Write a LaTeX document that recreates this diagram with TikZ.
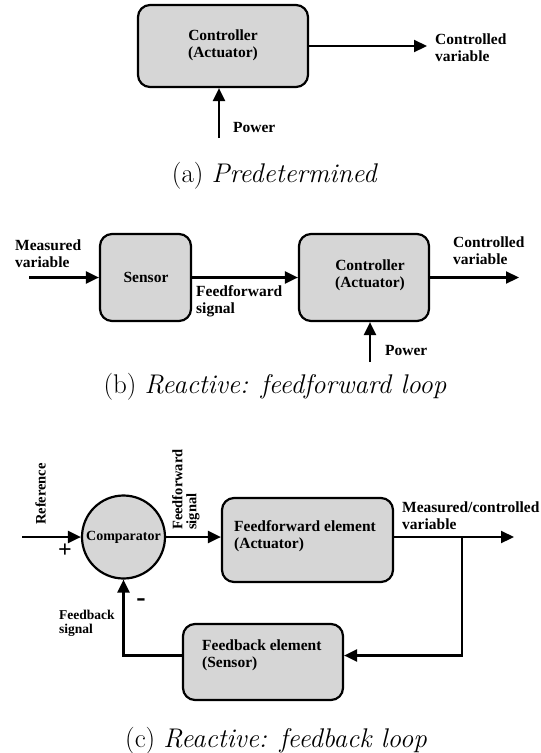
\documentclass[tikz,border=0pt]{standalone}
\usepackage{fontspec}
\newfontfamily\tms{Liberation Serif}
\usetikzlibrary{arrows.meta}
\definecolor{boxgray}{RGB}{214,214,214}
\tikzset{
  blk/.style={draw, line width=2.2pt, fill=boxgray, rounded corners=12pt, inner sep=0pt},
  cmp/.style={draw, line width=2.2pt, fill=boxgray, circle, inner sep=0pt},
  lbl/.style={inner sep=0pt, align=left, font=\tms\bfseries\fontsize{15.5}{17}\selectfont},
  ctr/.style={inner sep=0pt, align=center, font=\tms\bfseries\fontsize{15.5}{17}\selectfont},
  slbl/.style={inner sep=0pt, align=left, font=\tms\bfseries\fontsize{13.5}{14}\selectfont},
  captxt/.style={inner sep=0pt, font=\fontsize{27}{30}\selectfont},
  arr/.style={line width=2.2pt, -{Triangle[length=13pt,width=12pt]}}
}
\begin{document}
\begin{tikzpicture}[x=1pt,y=-1pt]
\useasboundingbox (0,0) rectangle (541,753);
% ---------- (a)
\node[blk, minimum width=170, minimum height=82] (ca) at (223,46) {};
\node[ctr] (cat) at (223,45) {Controller\\(Actuator)};
\coordinate (caout) at (427,46);
\draw[arr] (ca.east) -- (caout);
\node[lbl, anchor=west] (cva) at (435,48) {Controlled\\variable};
\coordinate (pa) at (219,138);
\draw[arr] (pa) -- (pa |- ca.south);
\node[lbl, anchor=west] (pwa) at (233,127) {Power};
\node[captxt] (capa) at (275,176) {(a) \textit{Predetermined}};
% ---------- (b)
\node[blk, minimum width=91, minimum height=87] (sen) at (145.5,277.5) {};
\node[ctr] (sent) at (146,277) {Sensor};
\node[blk, minimum width=130, minimum height=87] (cb) at (364,277.5) {};
\node[ctr] (cbt) at (370,275) {Controller\\(Actuator)};
\coordinate (mvin) at (29,277.5);
\draw[arr] (mvin) -- (sen.west);
\node[lbl, anchor=west] (mvl) at (15,254) {Measured\\variable};
\draw[arr] (sen.east) -- (cb.west);
\node[lbl, anchor=west] (ffl) at (196,301) {Feedforward\\signal};
\coordinate (cbout) at (519,277.5);
\draw[arr] (cb.east) -- (cbout);
\node[lbl, anchor=west] (cvb) at (453,251) {Controlled\\variable};
\coordinate (pb) at (370,362);
\draw[arr] (pb) -- (pb |- cb.south);
\node[lbl, anchor=west] (pwb) at (385,350) {Power};
\node[captxt] (capb) at (275,387) {(b) \textit{Reactive: feedforward loop}};
% ---------- (c)
\node[cmp, minimum size=83] (comp) at (123.5,537) {};
\node[ctr, font=\tms\bfseries\fontsize{14}{14}\selectfont] (compt) at (123.5,537) {Comparator};
\coordinate (refin) at (22,537);
\draw[arr] (refin) -- (comp.west);
\node[slbl, rotate=90, font=\tms\bfseries\fontsize{14.5}{14}\selectfont] (refl) at (40.5,494) {Reference};
\node[ctr, font=\tms\bfseries\fontsize{24}{24}\selectfont] (plus) at (65,551) {+};
\node[blk, minimum width=171, minimum height=84] (ffe) at (307.5,540) {};
\node[lbl, anchor=west] (ffet) at (234,536) {Feedforward element\\(Actuator)};
\draw[arr] (comp.east) -- (comp.east -| ffe.west);
\node[slbl, rotate=90, anchor=north west, font=\tms\bfseries\fontsize{14.5}{14}\selectfont] (ffsl) at (172,530) {Feedforward\\signal};
\coordinate (mcout) at (514,537);
\draw[arr] (comp.east -| ffe.east) -- (mcout);
\node[lbl, anchor=west] (mcl) at (402,516) {Measured/controlled\\variable};
\node[blk, minimum width=160, minimum height=76] (fbe) at (263,662) {};
\node[lbl, anchor=west] (fbet) at (202,655) {Feedback element\\(Sensor)};
\coordinate (br) at (462,537);
\coordinate (brd) at (462,655.5);
\draw[arr] (br) -- (brd) -- (brd -| fbe.east);
\draw[arr] (fbe.west |- brd) -- (comp.south |- brd) -- (comp.south);
\node[ctr, font=\tms\bfseries\fontsize{28}{28}\selectfont] (minus) at (141,603) {-};
\node[slbl, anchor=west] (fbsl) at (59,623) {Feedback\\signal};
\node[captxt] (capc) at (276,741) {(c) \textit{Reactive: feedback loop}};
\end{tikzpicture}
\end{document}
